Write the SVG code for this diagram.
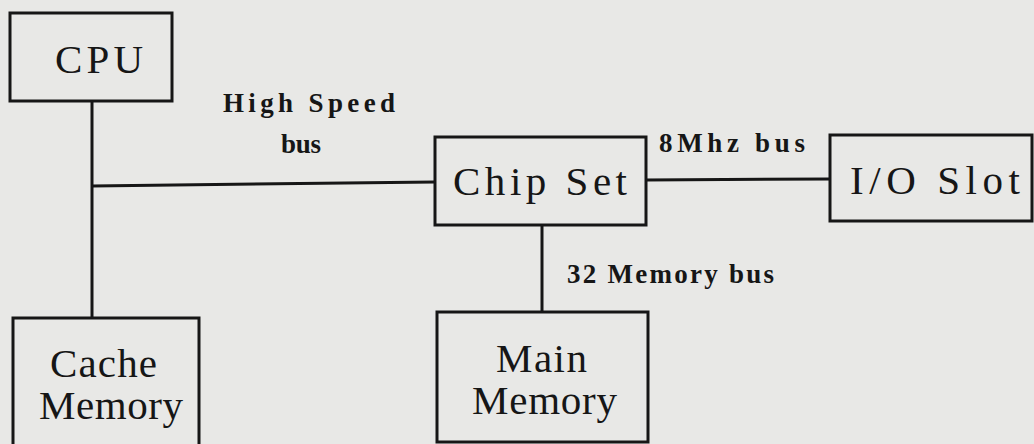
<svg xmlns="http://www.w3.org/2000/svg" width="1034" height="444" viewBox="0 0 1034 444">
<defs>
<style>
.box{fill:none;stroke:#161616;stroke-width:3}
.wire{fill:none;stroke:#161616;stroke-width:3}
.node{font-family:"Liberation Serif","Times New Roman",serif;font-size:41px;fill:#161616}
.lbl{font-family:"Liberation Serif","Times New Roman",serif;font-weight:bold;font-size:27px;fill:#161616}
</style>
</defs>
<rect x="0" y="0" width="1034" height="444" fill="#e8e8e6"/>
<g id="connectors">
<line class="wire" x1="92" y1="101" x2="92" y2="318"/>
<line class="wire" x1="92" y1="186" x2="435" y2="182"/>
<line class="wire" x1="646" y1="180" x2="830" y2="179"/>
<line class="wire" x1="542" y1="225" x2="542" y2="312"/>
<text class="lbl" x="223" y="112" textLength="172" lengthAdjust="spacing">High Speed</text>
<text class="lbl" x="281" y="153" textLength="40" lengthAdjust="spacing">bus</text>
<text class="lbl" x="659" y="152" textLength="146" lengthAdjust="spacing">8Mhz  bus</text>
<text class="lbl" x="567" y="283" textLength="207" lengthAdjust="spacing">32 Memory bus</text>
</g>
<g id="cpu">
<rect class="box" x="10" y="13" width="162" height="88"/>
<text class="node" x="55" y="73" textLength="88" lengthAdjust="spacing">CPU</text>
</g>
<g id="chipset">
<rect class="box" x="435" y="137" width="211" height="88"/>
<text class="node" x="453" y="195" textLength="174" lengthAdjust="spacing">Chip Set</text>
</g>
<g id="ioslot">
<rect class="box" x="830" y="135" width="202" height="86"/>
<text class="node" x="850" y="194" textLength="170" lengthAdjust="spacing">I/O Slot</text>
</g>
<g id="mainmemory">
<rect class="box" x="437" y="312" width="211" height="130"/>
<text class="node" x="496" y="372" textLength="91" lengthAdjust="spacing">Main</text>
<text class="node" x="472" y="414" textLength="145" lengthAdjust="spacing">Memory</text>
</g>
<g id="cachememory">
<rect class="box" x="13" y="318" width="186" height="140"/>
<text class="node" x="50" y="377" textLength="107" lengthAdjust="spacing">Cache</text>
<text class="node" x="39" y="419" textLength="144" lengthAdjust="spacing">Memory</text>
</g>
</svg>
